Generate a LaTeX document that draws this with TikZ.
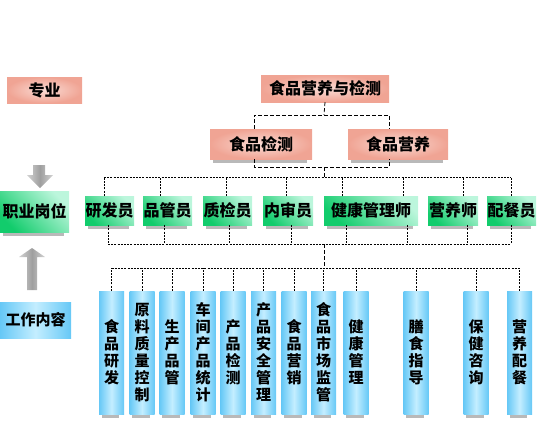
\documentclass[tikz,border=0pt]{standalone}
\usepackage{fontspec}
\setmainfont{Noto Sans CJK SC}
\usetikzlibrary{backgrounds}
\definecolor{pinkA}{HTML}{FADCD5}
\definecolor{pinkB}{HTML}{F0A494}
\definecolor{greenA}{HTML}{12CC6C}
\definecolor{greenB}{HTML}{BCF6DC}
\definecolor{blueA}{HTML}{66C8F6}
\definecolor{blueB}{HTML}{C4EEFF}

\begin{document}
\begin{tikzpicture}[x=1pt,y=-1pt,
   pinkbox/.style={inner sep=0pt,inner color=pinkA,outer color=pinkB,
      font=\fontsize{16}{18}\selectfont\bfseries},
   greenbox/.style={inner sep=0pt,top color=greenB,bottom color=greenA,shading angle=-45,
      minimum height=29pt,font=\fontsize{16}{18}\selectfont\bfseries},
   bluebox/.style={inner sep=0pt,left color=blueA,right color=blueA,middle color=blueB,
      minimum width=25pt,minimum height=123pt,align=center,
      font=\fontsize{15}{17}\selectfont\bfseries},
   conn/.style={dash pattern=on 4pt off 2pt,line width=0.8pt},
   fine/.style={dash pattern=on 2pt off 1.2pt,line width=0.7pt}]
   \useasboundingbox (0,0) rectangle (554,429);

   % left column
   \node[pinkbox,minimum width=75pt,minimum height=26pt] (zy) at (44.5,90) {专业};
   \node[greenbox,minimum width=69pt,minimum height=41pt] (zw) at (34.5,211.5) {职业岗位};
   \node[inner sep=0pt,left color=blueA,right color=blueA,middle color=blueB,
      minimum width=71pt,minimum height=36pt,font=\fontsize{15}{17}\selectfont\bfseries]
      (gz) at (35.5,320) {工作内容};
   \shade[left color=gray!35,right color=gray!35,middle color=gray!75]
      (33,165) -- (45,165) -- (45,175) -- (53,175) -- (40,188) -- (27,175) -- (33,175) -- cycle;
   \shade[left color=gray!35,right color=gray!35,middle color=gray!75]
      (27,290) -- (27,257) -- (19,257) -- (32,248) -- (45,257) -- (37,257) -- (37,290) -- cycle;

   % majors
   \node[pinkbox,minimum width=128pt,minimum height=27pt] (top) at (325,88.5) {食品营养与检测};
   \node[pinkbox,minimum width=102pt,minimum height=30pt] (jc) at (261,144) {食品检测};
   \node[pinkbox,minimum width=100pt,minimum height=30pt] (yy) at (398,144) {食品营养};

   % posts
   \node[greenbox,minimum width=49pt] (yf) at (109.5,210.5) {研发员};
   \node[greenbox,minimum width=49pt] (pg) at (167.5,210.5) {品管员};
   \node[greenbox,minimum width=49pt] (zj) at (227.5,210.5) {质检员};
   \node[greenbox,minimum width=50pt] (ns) at (288,210.5) {内审员};
   \node[greenbox,minimum width=94pt] (jk) at (371,210.5) {健康管理师};
   \node[greenbox,minimum width=50pt] (ys) at (453,210.5) {营养师};
   \node[greenbox,minimum width=49pt] (pc) at (511.5,210.5) {配餐员};

   % work
   \node[bluebox] (b1) at (111.5,352.5) {食\\品\\研\\发};
   \node[bluebox] (b2) at (142,352.5) {原\\料\\质\\量\\控\\制};
   \node[bluebox] (b3) at (172,352.5) {生\\产\\品\\管};
   \node[bluebox] (b4) at (203,352.5) {车\\间\\产\\品\\统\\计};
   \node[bluebox] (b5) at (233,352.5) {产\\品\\检\\测};
   \node[bluebox] (b6) at (263.5,352.5) {产\\品\\安\\全\\管\\理};
   \node[bluebox] (b7) at (294,352.5) {食\\品\\营\\销};
   \node[bluebox] (b8) at (323.5,352.5) {食\\品\\市\\场\\监\\管};
   \node[bluebox] (b9) at (356,352.5) {健\\康\\管\\理};
   \node[bluebox] (b10) at (416,352.5) {膳\\食\\指\\导};
   \node[bluebox] (b11) at (476,352.5) {保\\健\\咨\\询};
   \node[bluebox] (b12) at (519.5,352.5) {营\\养\\配\\餐};

   % shadows
   \begin{scope}[on background layer]
      \foreach \n in {zw,jc,yy,yf,pg,zj,ns,jk,ys,pc,b1,b2,b3,b4,b5,b6,b7,b8,b9,b10,b11,b12}
         \fill[gray!55] ([xshift=3pt]\n.south west) rectangle ([xshift=-5pt,yshift=-4pt]\n.south east);
   \end{scope}

   % connectors
   \coordinate (busA) at (324,115);
   \coordinate (busB) at (324,167);
   \coordinate (busC) at (324,177);
   \coordinate (busD) at (324,244);
   \coordinate (busE) at (324,268);
   \draw[conn] (top.south) -- (busA);
   \draw[conn] ([xshift=-7pt]jc.north) |- (busA) -| ([xshift=-9pt]yy.north);
   \draw[conn] ([xshift=-7pt]jc.south) |- (busB) -| ([xshift=-9pt]yy.south);
   \draw[conn] (busB) -- (busC);
   \draw[fine] ([xshift=-5.5pt]yf.north |- busC) -- ([xshift=-0.5pt]pc.north |- busC);
   \foreach \n/\d in {yf/-5.5,pg/-7.5,zj/-1.5,ns/-2,jk/-29,jk/32,ys/10,pc/-0.5}
      \draw[fine] ([xshift=\d pt]\n.north) -- ([xshift=\d pt]\n.north |- busC);
   \draw[fine] ([xshift=-1.5pt]yf.south |- busD) -- ([xshift=-0.5pt]pc.south |- busD);
   \foreach \n/\d in {yf/-1.5,pg/-3.5,zj/1.5,ns/3,jk/-25,jk/36,ys/14,pc/-0.5}
      \draw[fine] ([xshift=\d pt]\n.south) -- ([xshift=\d pt]\n.south |- busD);
   \draw[conn] (busD) -- (busE);
   \draw[fine] (b1.north |- busE) -- (b12.north |- busE);
   \foreach \n in {b1,b2,b3,b4,b5,b6,b7,b8,b9,b10,b11,b12}
      \draw[fine] (\n.north) -- (\n.north |- busE);
\end{tikzpicture}
\end{document}
